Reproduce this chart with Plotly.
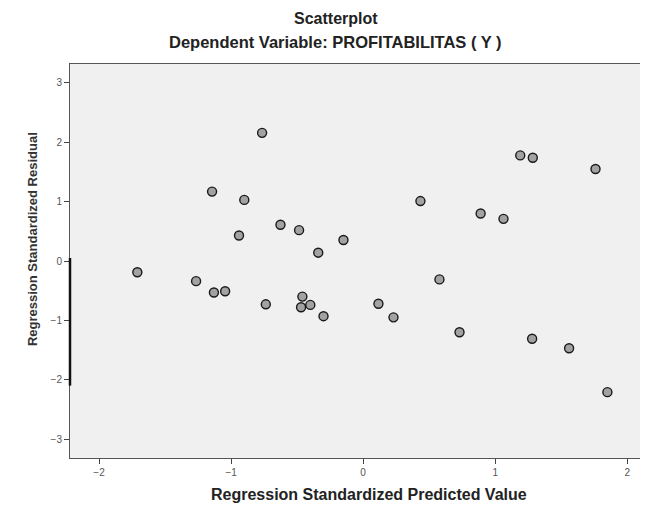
import plotly.graph_objects as go

# Regression Standardized Predicted Value (x) and Standardized Residual (y)
predicted = [-0.765, -1.144, -0.90, -0.626, -0.485, -0.149, -0.94, -0.34,
             -1.71, -1.265, -1.13, -1.045, -0.737, -0.46, -0.40, -0.47, -0.30,
             1.19, 1.285, 1.76, 0.434, 0.89, 1.063, 0.578, 0.116, 0.23,
             0.73, 1.28, 1.56, 1.85]
residual = [2.16, 1.17, 1.03, 0.61, 0.52, 0.354, 0.43, 0.14,
            -0.19, -0.34, -0.53, -0.51, -0.73, -0.60, -0.74, -0.78, -0.93,
            1.78, 1.74, 1.55, 1.01, 0.80, 0.71, -0.31, -0.72, -0.95,
            -1.20, -1.31, -1.47, -2.21]
x_ticks = [-2, -1, 0, 1, 2]
y_ticks = [-3, -2, -1, 0, 1, 2, 3]

fig = go.Figure()
fig.add_trace(go.Scatter(
    x=predicted, y=residual, mode="markers",
    marker=dict(symbol="circle", size=9, color="rgba(110,110,110,0.6)",
                line=dict(color="#1a1a1a", width=1.4)),
    hoverinfo="x+y", showlegend=False,
))

# dark segment on the left axis
fig.add_shape(type="line", xref="paper", yref="y", x0=0, x1=0, y0=0.05, y1=-2.1,
              line=dict(color="#111111", width=2.5))

# page body has an 8px default margin, so the figure is sized to fit the window
fig.update_layout(
    width=640, height=498,
    margin=dict(l=62, r=1, t=56, b=48, autoexpand=False),
    paper_bgcolor="white", plot_bgcolor="#f0f0f0",
    font=dict(family="Arial, Liberation Sans, sans-serif", color="#222222"),
)
fig.add_annotation(text="<b>Scatterplot</b>", xref="paper", yref="paper",
                   x=0.461, y=1.0, yanchor="middle", yshift=46, showarrow=False,
                   font=dict(size=16, color="#222"))
fig.add_annotation(text="<b>Dependent Variable: PROFITABILITAS ( Y )</b>", xref="paper",
                   yref="paper", x=0.461, y=1.0, yanchor="middle", yshift=22,
                   showarrow=False, font=dict(size=16.5, color="#222"))
fig.add_annotation(text="<b>Regression Standardized Predicted Value</b>", xref="paper",
                   yref="paper", x=0.518, y=0.0, yanchor="middle", yshift=-36,
                   showarrow=False, font=dict(size=16, color="#222"))
fig.add_annotation(text="<b>Regression Standardized Residual</b>", xref="paper",
                   yref="y", x=0, y=0.37, xanchor="center", yanchor="middle",
                   xshift=-38, textangle=-90, showarrow=False,
                   font=dict(size=13, color="#333"))

fig.update_xaxes(
    range=[-2.22, 2.15], tickvals=x_ticks, ticks="outside", ticklen=5,
    tickcolor="#444", tickfont=dict(size=10, color="#555"),
    showgrid=False, zeroline=False, showline=True, linecolor="#555",
    linewidth=1, mirror=True, automargin=False,
)
fig.update_yaxes(
    range=[-3.32, 3.32], tickvals=y_ticks, ticks="outside", ticklen=5,
    tickcolor="#444", tickfont=dict(size=10, color="#555"),
    showgrid=False, zeroline=False, showline=True, linecolor="#555",
    linewidth=1, mirror=True, automargin=False,
)

fig.write_html("out.html")
